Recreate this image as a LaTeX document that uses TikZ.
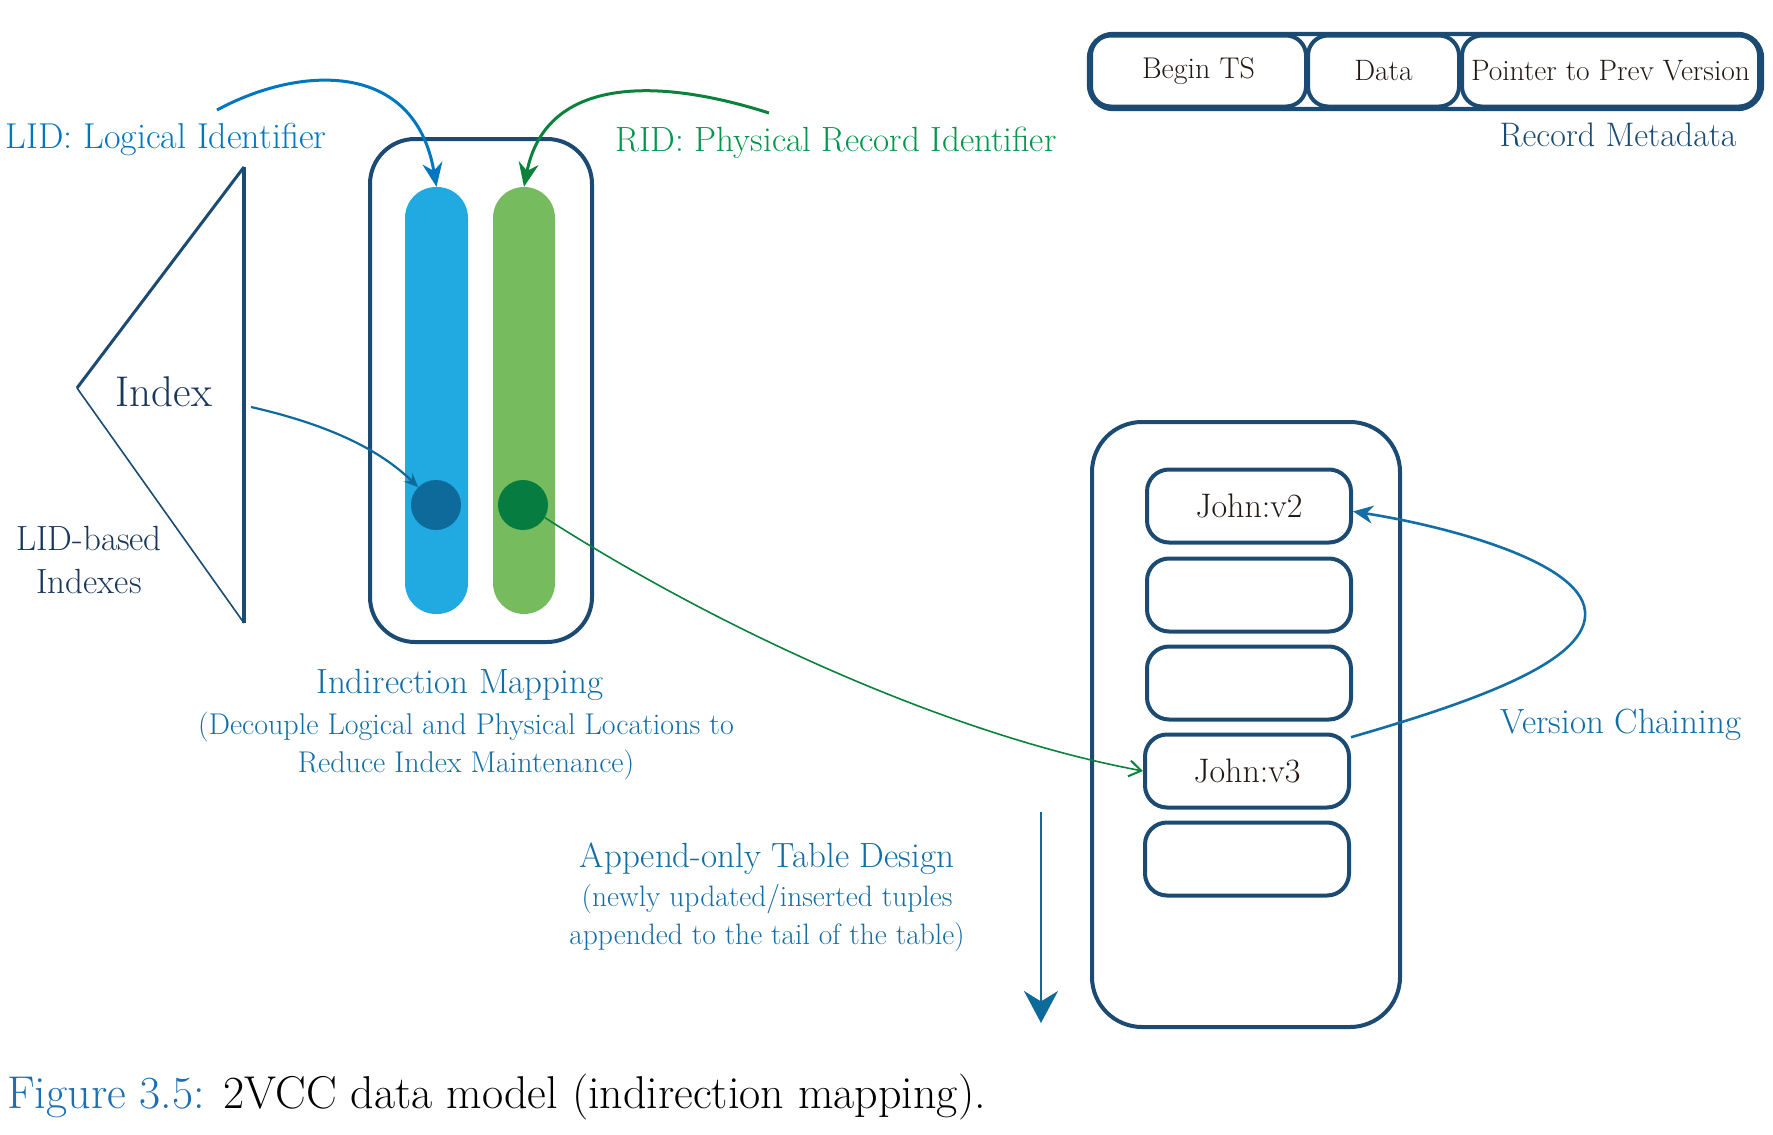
\documentclass[tikz,border=0pt]{standalone}
\usepackage{fontspec}
\usetikzlibrary{arrows.meta}
\definecolor{navy}{RGB}{27,75,114}
\definecolor{lidblue}{RGB}{0,118,192}
\definecolor{ridgreen}{RGB}{0,150,75}
\definecolor{textblue}{RGB}{18,110,165}
\definecolor{darktext}{RGB}{35,25,20}
\definecolor{indexnavy}{RGB}{25,55,90}
\definecolor{barblue}{RGB}{33,169,225}
\definecolor{bargreen}{RGB}{119,187,95}
\definecolor{dotblue}{RGB}{15,106,156}
\definecolor{dotgreen}{RGB}{6,124,64}
\definecolor{arrgreen}{RGB}{10,130,60}
\definecolor{capblue}{RGB}{30,110,180}
\begin{document}
\begin{tikzpicture}[x=1pt,y=-1pt,
  sketch/.style={draw=navy, line width=4pt},
  slot/.style={sketch, rounded corners=22pt, minimum width=204pt, minimum height=73pt, inner sep=0pt,
    text=darktext, font=\fontsize{34}{40}\selectfont},
  metabox/.style={sketch, rounded corners=20pt, minimum height=71pt, inner sep=0pt,
    text=darktext, font=\fontsize{29.5}{35}\selectfont},
  bar/.style={rounded corners=31pt, minimum height=427pt, inner sep=0pt},
  dot/.style={circle, minimum size=50pt, inner sep=0pt},
  lbl/.style={font=\fontsize{35}{42}\selectfont, inner sep=0pt},
  sublbl/.style={font=\fontsize{29.5}{38}\selectfont, inner sep=0pt, align=center},
]
\useasboundingbox (0,0) rectangle (1773,1135);

% ---------- mapping box ----------
\node[sketch, rounded corners=45pt, minimum width=222pt, minimum height=503pt] (mapbox) at (481,390.5) {};
\node[bar, fill=barblue, minimum width=63pt] (bluebar) at (436.5,400.5) {};
\node[bar, fill=bargreen, minimum width=62pt] (greenbar) at (524,400.5) {};
\node[dot, fill=dotblue] (bluedot) at (436,505) {};
\node[dot, fill=dotgreen] (greendot) at (523,505) {};

% ---------- index triangle ----------
\coordinate (t1) at (244,167);
\coordinate (t2) at (77,388);
\coordinate (t3) at (244,623);
\draw[navy, line width=4.2pt] (t1) -- (t3);
\draw[navy, line width=3pt] (t1) -- (t2);
\draw[navy, line width=1.6pt] (t2) -- (t3);
\node[lbl, text=indexnavy, font=\fontsize{43}{50}\selectfont] (index) at (164,392) {Index};
\node[sublbl, text=indexnavy, font=\fontsize{35}{43}\selectfont] (lidbased) at (89,560) {LID-based\\Indexes};

% ---------- labels ----------
\node[lbl, text=lidblue, font=\fontsize{36}{42}\selectfont] (lid) at (166,140) {LID: Logical Identifier};
\node[lbl, text=ridgreen] (rid) at (836,143) {RID: Physical Record Identifier};
\node[lbl, text=textblue] (indir) at (460,685) {Indirection Mapping};
\node[sublbl, text=textblue, font=\fontsize{30}{38}\selectfont] (indirsub) at (466,746) {(Decouple Logical and Physical Locations to\\Reduce Index Maintenance)};
\node[lbl, text=textblue] (append) at (767,859) {Append-only Table Design};
\node[sublbl, text=textblue] (appendsub) at (767,918) {(newly updated/inserted tuples\\appended to the tail of the table)};

% ---------- record metadata ----------
\draw[sketch, line width=4.4pt, rounded corners=24pt] (1089,34) rectangle (1762,109);
\node[metabox, minimum width=215pt, font=\fontsize{30}{35}\selectfont] (begints) at (1198.5,71) {Begin TS};
\node[metabox, minimum width=151pt] (data) at (1383.5,71) {Data};
\node[metabox, minimum width=297pt] (pointer) at (1610.5,71) {Pointer to Prev Version};
\node[lbl, text=navy, font=\fontsize{34}{40}\selectfont] (recmeta) at (1618,135) {Record Metadata};

% ---------- table ----------
\node[sketch, rounded corners=50pt, minimum width=308pt, minimum height=605pt] (table) at (1246,724.5) {};
\node[slot] (v2) at (1249,506) {John:v2};
\node[slot] (s2) at (1249,595) {};
\node[slot] (s3) at (1249,683) {};
\node[slot] (v3) at (1247,771) {John:v3};
\node[slot] (s5) at (1247,859) {};
\node[lbl, text=textblue] (vchain) at (1621,725) {Version Chaining};

% ---------- arrows ----------
\coordinate (lidstart) at (217,110);
\draw[lidblue, line width=3pt, -{Stealth[length=24pt,width=20pt]}]
  (lidstart) .. controls (300,65) and (415,60) .. (bluebar.north);
\coordinate (ridstart) at (769,113);
\draw[arrgreen, line width=3pt, -{Stealth[length=24pt,width=20pt]}]
  (ridstart) .. controls (650,75) and (545,80) .. (greenbar.north);
\coordinate (indexstart) at (251,407);
\draw[dotblue, line width=2.2pt, -{Stealth[length=14pt,width=12pt]}]
  (indexstart) .. controls (330,425) and (380,450) .. (bluedot.north west);
\draw[arrgreen, line width=1.6pt, -{Straight Barb[length=12pt,width=16pt,line width=2pt]}]
  (greendot.-30) .. controls (720,630) and (950,735) .. (v3.west);
\draw[textblue, line width=2.6pt, -{Stealth[length=20pt,width=18pt]}]
  (v3.18) .. controls (1480,700) and (1590,660) .. (1585,611)
  .. controls (1580,560) and (1440,525) .. (v2.-3);
\coordinate (dtop) at (1041,812);
\coordinate (dbot) at (1041,1023);
\draw[dotblue, line width=2.6pt, -{Stealth[length=32pt,width=34pt]}] (dtop) -- (dbot);

% ---------- caption ----------
\node[anchor=west, inner sep=0pt, font=\fontsize{46}{54}\selectfont] (caption) at (7,1097)
  {\textcolor{capblue}{Figure 3.5:} 2VCC data model (indirection mapping).};
\end{tikzpicture}
\end{document}
